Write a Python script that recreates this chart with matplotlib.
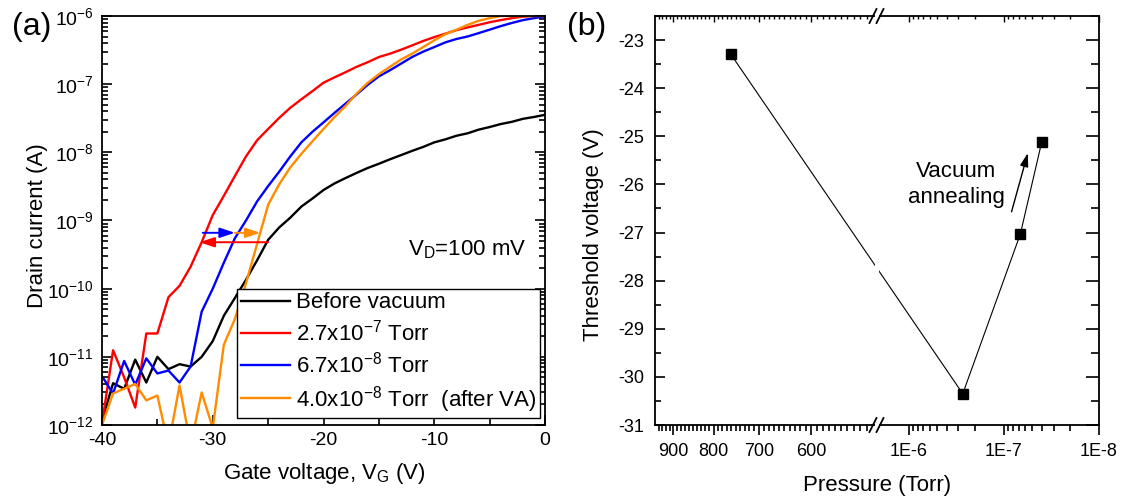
import numpy as np
import matplotlib
matplotlib.use("Agg")
import matplotlib.pyplot as plt
from matplotlib.ticker import (MultipleLocator, LogLocator, FixedLocator,
                               FixedFormatter, NullFormatter)
from matplotlib.patches import ConnectionPatch, Rectangle
from matplotlib.lines import Line2D
from matplotlib.markers import TICKLEFT
from matplotlib.transforms import blended_transform_factory

plt.rcParams["font.family"] = ["Liberation Sans", "DejaVu Sans"]
plt.rcParams["mathtext.fontset"] = "custom"
plt.rcParams["mathtext.rm"] = "Liberation Sans"
plt.rcParams["mathtext.it"] = "Liberation Sans:italic"
plt.rcParams["mathtext.bf"] = "Liberation Sans:bold"
plt.rcParams["axes.unicode_minus"] = False
plt.rcParams["axes.linewidth"] = 1.3


# ============================================================
# data, panel (a): transfer curves, V_G = -40 ... 0 V
# ============================================================

gate_voltage = np.arange(-40, 1)

current_before = [
    1.15e-12, 4.1e-12, 3.4e-12, 9.1e-12, 4.2e-12, 1.0e-11, 6.6e-12, 7.8e-12,
    7.2e-12, 1.0e-11, 1.7e-11, 4.0e-11, 7.3e-11, 1.35e-10, 2.6e-10, 5.2e-10,
    7.9e-10, 1.1e-9, 1.6e-9, 2.1e-9, 2.8e-9, 3.5e-9, 4.2e-9, 5.0e-9,
    5.9e-9, 6.8e-9, 7.9e-9, 9.1e-9, 1.05e-8, 1.2e-8, 1.4e-8, 1.55e-8,
    1.75e-8, 1.9e-8, 2.15e-8, 2.35e-8, 2.6e-8, 2.8e-8, 3.1e-8, 3.3e-8,
    3.55e-8,
]
current_27e7 = [
    1.05e-12, 1.25e-11, 5.0e-12, 1.8e-12, 2.2e-11, 2.2e-11, 7.5e-11, 1.1e-10,
    2.1e-10, 4.8e-10, 1.2e-9, 2.3e-9, 4.5e-9, 8.7e-9, 1.5e-8, 2.2e-8,
    3.2e-8, 4.5e-8, 6.0e-8, 7.9e-8, 1.05e-7, 1.26e-7, 1.5e-7, 1.8e-7,
    2.1e-7, 2.5e-7, 2.8e-7, 3.2e-7, 3.7e-7, 4.3e-7, 4.9e-7, 5.5e-7,
    6.2e-7, 6.8e-7, 7.4e-7, 8.1e-7, 8.7e-7, 9.3e-7, 9.8e-7, 1.0e-6,
    1.0e-6,
]
current_67e8 = [
    5.2e-12, 2.9e-12, 8.7e-12, 3.9e-12, 9.5e-12, 5.7e-12, 6.3e-12, 4.2e-12,
    7.2e-12, 4.6e-11, 1.0e-10, 2.4e-10, 5.5e-10, 1.0e-9, 1.9e-9, 3.2e-9,
    5.2e-9, 8.7e-9, 1.4e-8, 2.0e-8, 2.75e-8, 3.8e-8, 5.2e-8, 7.1e-8,
    9.8e-8, 1.3e-7, 1.6e-7, 2.0e-7, 2.5e-7, 3.0e-7, 3.5e-7, 4.1e-7,
    4.6e-7, 5.0e-7, 5.6e-7, 6.3e-7, 7.1e-7, 7.9e-7, 8.7e-7, 9.3e-7,
    9.8e-7,
]
current_40e8 = [
    1.0e-12, 2.9e-12, 3.4e-12, 4.0e-12, 2.3e-12, 2.7e-12, 5e-13, 3.8e-12,
    5e-13, 3.0e-12, 9e-13, 1.5e-11, 3.6e-11, 1.2e-10, 4.5e-10, 1.7e-9,
    3.4e-9, 6.0e-9, 9.5e-9, 1.45e-8, 2.2e-8, 3.3e-8, 4.8e-8, 7.3e-8,
    1.05e-7, 1.4e-7, 1.8e-7, 2.3e-7, 2.8e-7, 3.5e-7, 4.4e-7, 5.4e-7,
    6.3e-7, 7.4e-7, 8.5e-7, 9.3e-7, 1.0e-6, 1.0e-6, 1.0e-6, 1.0e-6,
    1.0e-6,
]

curve_labels = ["Before vacuum", "2.7x10$^{-7}$ Torr", "6.7x10$^{-8}$ Torr",
                "4.0x10$^{-8}$ Torr  (after VA)"]
curve_colors = ["#000000", "#ff0000", "#0000ff", "#ff8c00"]

# threshold shift arrows: (from V, to V, current)
arrow_blue = (-30.9, -28.0, 6.6e-10)
arrow_orange = (-28.0, -25.7, 6.6e-10)
arrow_red = (-25.0, -31.2, 4.8e-10)

# ============================================================
# data, panel (b): threshold voltage vs pressure
# ============================================================

pressure = [760, 2.7e-7, 6.7e-8, 4.0e-8]
threshold = [-23.3, -30.35, -27.03, -25.12]


# ============================================================
# layout helpers (pixel boxes of the 1122x499 picture)
# ============================================================

W, H = 1122, 499


def box(x0, y0, x1, y1):
    return [x0 / W, 1 - y1 / H, (x1 - x0) / W, (y1 - y0) / H]


def fx(px):
    return px / W


def fy(py):
    return 1 - py / H


fig = plt.figure(figsize=(W / 100, H / 100), dpi=100)

# ============================================================
# panel (a)
# ============================================================

ax_a = fig.add_axes(box(102, 16, 545, 425))
for cur, col, lab in zip([current_before, current_27e7, current_67e8, current_40e8],
                         curve_colors, curve_labels):
    ax_a.plot(gate_voltage, cur, color=col, lw=1.7, label=lab)

ax_a.set_yscale("log")
ax_a.set_xlim(-40, 0)
ax_a.set_ylim(1e-12, 1e-6)
ax_a.xaxis.set_major_locator(MultipleLocator(10))
ax_a.xaxis.set_minor_locator(MultipleLocator(5))
ax_a.yaxis.set_major_locator(LogLocator(base=10, numticks=10))
ax_a.yaxis.set_minor_locator(LogLocator(base=10, subs=np.arange(2, 10), numticks=10))
ax_a.yaxis.set_minor_formatter(NullFormatter())
ax_a.tick_params(which="both", direction="in", right=True, top=False,
                 labelsize=14, width=1.2)
ax_a.tick_params(which="major", length=7)
ax_a.tick_params(which="minor", length=4)
ax_a.tick_params(axis="y", pad=6)
ax_a.tick_params(axis="x", pad=5)

for (v0, v1, i0), col in zip([arrow_blue, arrow_orange, arrow_red],
                             ["#0000ff", "#ff8c00", "#ff0000"]):
    ax_a.annotate("", xy=(v1, i0), xytext=(v0, i0),
                  arrowprops=dict(arrowstyle="-|>,head_length=0.9,head_width=0.3",
                                  mutation_scale=10, color=col, lw=1.4,
                                  shrinkA=0, shrinkB=0))

leg = ax_a.legend(loc="lower right", bbox_to_anchor=(1 - 5 / 443, 7 / 409),
                  borderaxespad=0, fontsize=16, frameon=True, fancybox=False,
                  edgecolor="black", framealpha=1, handlelength=2.2,
                  handletextpad=0.3, labelspacing=0.28, borderpad=0.15)
leg.get_frame().set_linewidth(1.0)

fig.text(fx(467.5), fy(255), "V$_\\mathrm{D}$=100 mV", ha="center",
         va="baseline", fontsize=16)
fig.text(fx(38), fy(226), "Drain current (A)", rotation=90, ha="center",
         va="center", fontsize=16)
fig.text(fx(324), fy(479), "Gate voltage, V$_\\mathrm{G}$ (V)", ha="center",
         va="baseline", fontsize=16)
fig.text(fx(12), fy(35), "(a)", ha="left", va="baseline", fontsize=23)

# ============================================================
# panel (b): broken pressure axis
# ============================================================

ax_l = fig.add_axes(box(655, 16, 877, 425))
ax_r = fig.add_axes(box(877, 16, 1099, 425))

minor_left = list(range(510, 950, 10))
minor_right = [k * 1e-7 for k in range(2, 10)] + [k * 1e-8 for k in range(2, 10)]

for ax, lim, major, major_lab, minor in [
        (ax_l, (950, 495), [900, 800, 700, 600], ["900", "800", "700", "600"], minor_left),
        (ax_r, (2.15e-6, 1e-8), [1e-6, 1e-7, 1e-8], ["1E-6", "1E-7", "1E-8"], minor_right)]:
    ax.patch.set_visible(False)
    ax.set_xscale("log")
    ax.set_xlim(*lim)
    ax.set_ylim(-31, -22.5)

    # small inward ticks along the top edge
    top = ax.twiny()
    top.set_xscale("log")
    top.set_xlim(*lim)
    top.xaxis.set_major_locator(FixedLocator(major))
    top.xaxis.set_minor_locator(FixedLocator(minor))
    top.xaxis.set_major_formatter(NullFormatter())
    top.xaxis.set_minor_formatter(NullFormatter())
    top.tick_params(axis="x", which="both", direction="in", width=1.0,
                    bottom=False)
    top.tick_params(axis="x", which="major", length=4)
    top.tick_params(axis="x", which="minor", length=2.5)
    for s in top.spines.values():
        s.set_visible(False)

    ax.xaxis.set_major_locator(FixedLocator(major))
    ax.xaxis.set_major_formatter(FixedFormatter(major_lab))
    ax.xaxis.set_minor_locator(FixedLocator(minor))
    ax.xaxis.set_minor_formatter(NullFormatter())
    ax.yaxis.set_major_locator(MultipleLocator(1))
    ax.yaxis.set_minor_locator(MultipleLocator(0.5))
    ax.tick_params(axis="x", which="both", direction="out", top=False,
                   labelsize=13, width=1.2, pad=6)
    ax.tick_params(axis="x", which="major", length=7)
    ax.tick_params(axis="x", which="minor", length=4)
    ax.tick_params(axis="y", which="both", direction="in", width=1.2,
                   labelsize=13, pad=8)
    ax.tick_params(axis="y", which="major", length=7)
    ax.tick_params(axis="y", which="minor", length=4)

ax_l.spines["right"].set_visible(False)
ax_l.tick_params(axis="y", which="both", left=True, right=False)
ax_r.spines["left"].set_visible(False)
ax_r.tick_params(axis="y", which="both", left=False, right=False,
                 labelleft=False, labelright=False)

# y tick marks along the right edge of panel (b)
edge = blended_transform_factory(ax_r.transAxes, ax_r.transData)
for yt, size in [(np.arange(-31, -22.4, 1.0), 9.5), (np.arange(-30.5, -22.4, 1.0), 5.5)]:
    ax_r.plot(np.ones_like(yt), yt, transform=edge, ls="none", marker=TICKLEFT,
              ms=size, mew=1.2, color="black", clip_on=False)

ax_l.plot(pressure[:1], threshold[:1], "s", color="black", ms=7.5)
ax_r.plot(pressure[1:], threshold[1:], "-s", color="black", ms=7.5, lw=0.8)

con = ConnectionPatch(xyA=(pressure[0], threshold[0]), coordsA=ax_l.transData,
                      xyB=(pressure[1], threshold[1]), coordsB=ax_r.transData,
                      color="black", lw=0.8, zorder=-1)
fig.add_artist(con)

# gap and "//" marks at the axis break
fig.add_artist(Rectangle((fx(875), fy(437)), fx(879) - fx(875), fy(4) - fy(437),
                         transform=fig.transFigure, facecolor="white",
                         edgecolor="none", zorder=10))
for yb in (16, 425):
    for xs in (873, 880):
        fig.add_artist(Line2D([fx(xs - 3.5), fx(xs + 3.5)], [fy(yb + 7), fy(yb - 7)],
                              transform=fig.transFigure, color="black", lw=1.3,
                              zorder=11))

ax_r.annotate("", xy=(5.6e-8, -25.35), xytext=(8.3e-8, -26.57),
              arrowprops=dict(arrowstyle="-|>,head_length=0.8,head_width=0.25",
                              mutation_scale=10, color="black", lw=1.0,
                              shrinkA=0, shrinkB=0))
ax_r.text(3.14e-7, -25.84, "Vacuum", ha="center", va="baseline", fontsize=16)
ax_r.text(3.14e-7, -26.38, "annealing", ha="center", va="baseline", fontsize=16)

fig.text(fx(594), fy(235), "Threshold voltage (V)", rotation=90, ha="center",
         va="center", fontsize=16)
fig.text(fx(877), fy(491), "Pressure (Torr)", ha="center", va="baseline",
         fontsize=16)
fig.text(fx(567), fy(35), "(b)", ha="left", va="baseline", fontsize=23)

fig.savefig("out.png", dpi=100)
